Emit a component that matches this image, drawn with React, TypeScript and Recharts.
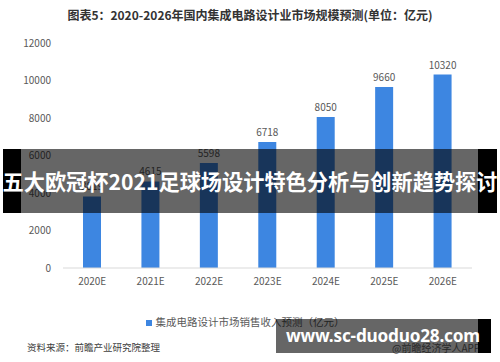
import { BarChart, Bar, XAxis, YAxis, LabelList, Legend } from "recharts";

const years = ["2020E", "2021E", "2022E", "2023E", "2024E", "2025E", "2026E"];
const revenue = [3819, 4615, 5598, 6718, 8050, 9660, 10320];
const yTicks = [0, 2000, 4000, 6000, 8000, 10000, 12000];

const data = years.map((year, i) => ({ year, revenue: revenue[i] }));

const FONT = "'Noto Sans CJK SC', 'Noto Sans', sans-serif";
const BLUE = "#3d86e1";

export default function App() {
  return (
    <div
      style={{
        position: "fixed",
        left: 0,
        top: 0,
        width: 500,
        height: 362,
        background: "#fff",
        fontFamily: FONT,
        overflow: "hidden",
      }}
    >
      <div
        style={{
          position: "absolute",
          top: 6,
          left: 0,
          width: 500,
          textAlign: "center",
          fontSize: 12,
          fontWeight: 700,
          color: "#333",
        }}
      >
        图表5：2020-2026年国内集成电路设计业市场规模预测(单位：亿元)
      </div>

      <BarChart
        width={500}
        height={362}
        data={data}
        margin={{ top: 43, right: 28, bottom: 49, left: 13 }}
        style={{ position: "absolute", left: 0, top: 0 }}
      >
        <XAxis
          dataKey="year"
          axisLine={{ stroke: "#d9d9d9" }}
          tickLine={false}
          tickMargin={4}
          height={30}
          tick={{ fill: "#595959", fontSize: 10, fontFamily: FONT }}
        />
        <YAxis
          domain={[0, 12000]}
          ticks={yTicks}
          width={50}
          axisLine={false}
          tickLine={false}
          tickMargin={6}
          tick={{ fill: "#595959", fontSize: 10, fontFamily: FONT }}
        />
        <Legend
          verticalAlign="bottom"
          iconType="square"
          iconSize={6}
          wrapperStyle={{ top: 314, left: 0, width: 500, fontSize: 10.5 }}
          formatter={(v) => <span style={{ color: "#595959" }}>{v}</span>}
        />
        <Bar
          dataKey="revenue"
          name="集成电路设计市场销售收入预测（亿元）"
          fill={BLUE}
          barSize={18}
          isAnimationActive={false}
        >
          <LabelList
            dataKey="revenue"
            position="top"
            offset={6}
            fill="#595959"
            fontSize={10}
            fontFamily={FONT}
          />
        </Bar>
      </BarChart>

      <div
        style={{
          position: "absolute",
          left: 27,
          top: 340,
          fontSize: 9.5,
          color: "#404040",
        }}
      >
        资料来源：前瞻产业研究院整理
      </div>

      {/* overlay banner */}
      <div style={{ position: "absolute", left: 3, top: 149, width: 18, height: 64, background: "#000" }} />
      <div style={{ position: "absolute", left: 21, top: 149, width: 457, height: 64, background: "rgba(0,0,0,0.6)" }} />
      <div style={{ position: "absolute", left: 478, top: 149, width: 19, height: 64, background: "#000" }} />
      <div
        style={{
          position: "absolute",
          left: 0,
          top: 149,
          width: 500,
          height: 64,
          lineHeight: "64px",
          textAlign: "center",
          color: "#fff",
          fontWeight: 700,
          fontSize: 21.2,
          whiteSpace: "nowrap",
        }}
      >
        五大欧冠杯2021足球场设计特色分析与创新趋势探讨
      </div>

      {/* bottom badge */}
      <div
        style={{
          position: "absolute",
          left: 392,
          top: 340,
          fontSize: 10,
          color: "#666",
        }}
      >
        @前瞻经济学人APP
      </div>
      <div style={{ position: "absolute", left: 276, top: 319, width: 202, height: 34, background: "rgba(0,0,0,0.6)" }} />
      <div style={{ position: "absolute", left: 478, top: 319, width: 13, height: 34, background: "#000" }} />
      <div
        style={{
          position: "absolute",
          left: 286,
          top: 319,
          height: 34,
          lineHeight: "34px",
          color: "#fff",
          fontWeight: 700,
          fontSize: 17.2,
          letterSpacing: -0.2,
          fontFamily: "'Noto Sans', sans-serif",
          whiteSpace: "nowrap",
        }}
      >
        www.sc-duoduo28.com
      </div>
    </div>
  );
}
